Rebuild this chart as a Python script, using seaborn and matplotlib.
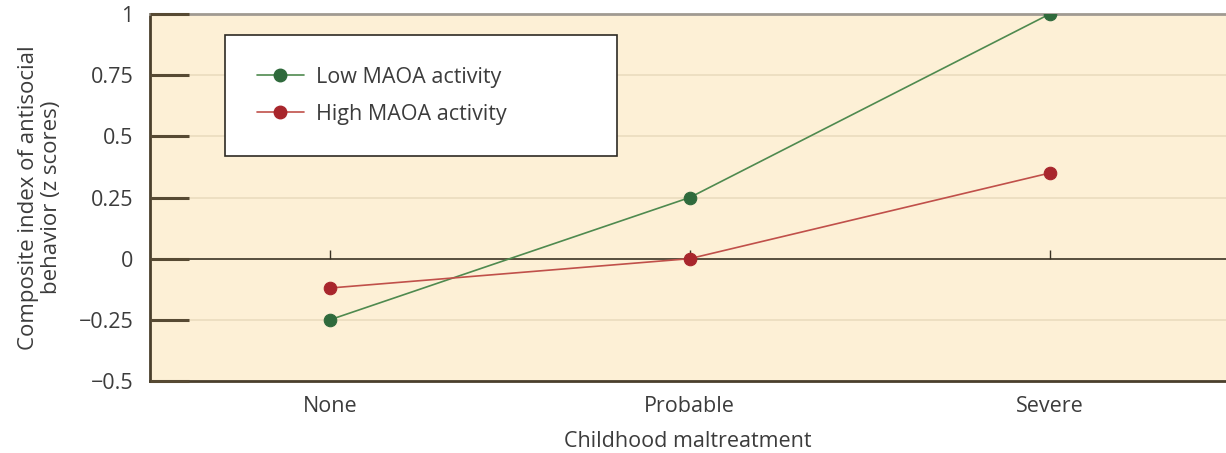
import matplotlib
matplotlib.use("Agg")
import matplotlib.pyplot as plt
from matplotlib.lines import Line2D
import seaborn as sns
import pandas as pd

# dados do grafico
maltrato = ['None', 'Probable', 'Severe']
baixa_maoa = [-0.25, 0.25, 1.0]
alta_maoa = [-0.12, 0.0, 0.35]
grupos = ['Low MAOA activity', 'High MAOA activity']
y_ticks = [-0.5, -0.25, 0, 0.25, 0.5, 0.75, 1]
y_labels = ['\u22120.5', '\u22120.25', '0', '0.25', '0.5', '0.75', '1']

df = pd.DataFrame({
    'maltrato': maltrato * 2,
    'valor': baixa_maoa + alta_maoa,
    'grupo': [grupos[0]] * 3 + [grupos[1]] * 3,
})

sns.set_style('white')
plt.rcParams['font.family'] = ['Open Sans', 'DejaVu Sans']
texto = '#3c3c3c'
fs = 15.5

fig = plt.figure(figsize=(12.26, 4.53), dpi=100)
ax = fig.add_axes([0.1223, 0.159, 0.8777, 0.81])
ax.set_facecolor('#fdf0d6')
ax.set_axisbelow(False)

cores = {grupos[0]: '#4f8a4f', grupos[1]: '#c0504a'}
cores_marcador = ['#2f6a3c', '#a8262c']
sns.lineplot(data=df, x='maltrato', y='valor', hue='grupo', palette=cores,
             marker='o', markersize=9, linewidth=1.2, markeredgewidth=0.8,
             ax=ax, legend=False, zorder=5)
# marcadores mais escuros
for linha, mc in zip(ax.lines, cores_marcador):
    linha.set_markerfacecolor(mc)
    linha.set_markeredgecolor(mc)

ax.set_xlim(-0.5, 2.49)
ax.set_ylim(-0.5, 1)
ax.set_yticks(y_ticks)
ax.set_yticklabels(y_labels)

# linhas de grade claras por baixo de tudo
for y in [-0.25, 0.25, 0.5, 0.75]:
    ax.axhline(y, color='#eadcbf', lw=1.2, zorder=0.2)
ax.axhline(0, color='#3b3324', lw=1.2, zorder=2)
ax.vlines(range(len(maltrato)), 0, 0.035, color='#3b3324', lw=1, zorder=2)

ax.tick_params(axis='y', left=True, direction='in', length=28, width=2.2,
               color='#574a33', labelsize=fs, labelcolor=texto, pad=12)
ax.tick_params(axis='x', bottom=False, length=0, labelsize=fs,
               labelcolor=texto, pad=11)

for lado in ['left', 'bottom']:
    ax.spines[lado].set_color('#4a3f2c')
    ax.spines[lado].set_linewidth(2)
ax.spines['top'].set_color('#a09a92')
ax.spines['top'].set_linewidth(2)
ax.spines['right'].set_visible(False)

ax.set_xlabel('Childhood maltreatment', fontsize=fs, color=texto, labelpad=10)
ax.set_ylabel('Composite index of antisocial\nbehavior (z scores)', fontsize=16,
              color=texto, labelpad=12, linespacing=1.1)

handles = [Line2D([], [], color=cores[g], marker='o', markersize=9,
                  markerfacecolor=mc, markeredgecolor=mc, lw=1.2)
           for g, mc in zip(grupos, cores_marcador)]
leg = ax.legend(handles, grupos, loc='upper left', bbox_to_anchor=(0.0697, 0.943),
                fontsize=fs, frameon=True, fancybox=False, borderpad=1.48,
                handlelength=2.2, labelspacing=0.73, handletextpad=0.55,
                borderaxespad=0, framealpha=1)
leg.set_zorder(10)
leg.get_frame().set_edgecolor('#2e2a24')
leg.get_frame().set_linewidth(1.2)
leg.get_frame().set_facecolor('white')
for t in leg.get_texts():
    t.set_color(texto)
    t.set_text(t.get_text() + ' ' * 14)

fig.savefig('out.png', dpi=100)
